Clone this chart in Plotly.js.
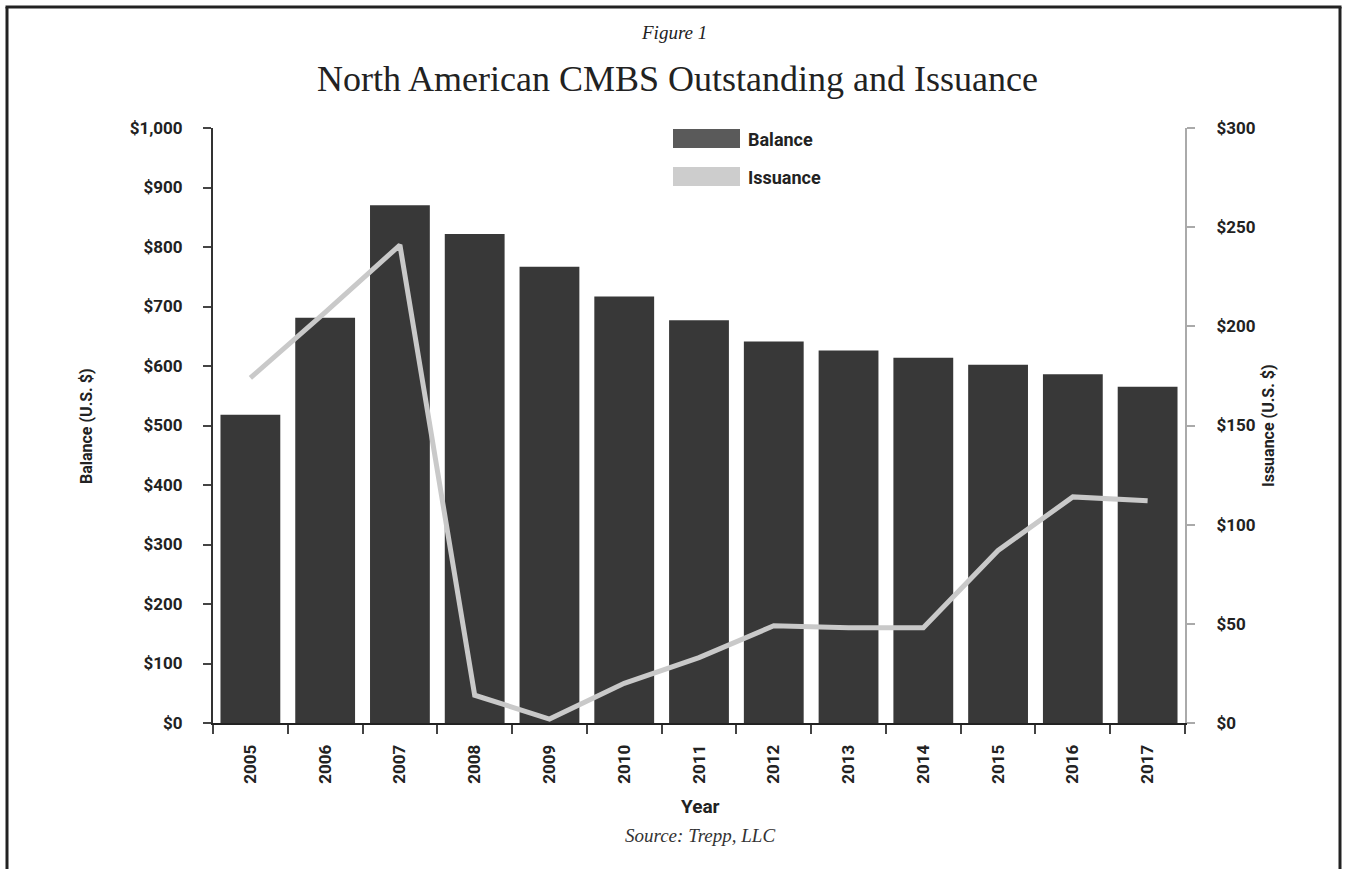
<!DOCTYPE html>
<html><head><meta charset="utf-8">
<script src="https://cdn.plot.ly/plotly-3.0.1.min.js"></script>
<style>html,body{margin:0;padding:0;background:#fff}#chart{width:1349px;height:869px}</style>
</head><body><div id="chart"></div>
<script>
const years = ['2005','2006','2007','2008','2009','2010','2011','2012','2013','2014','2015','2016','2017'];
const balance = [518, 681, 870, 822, 767, 717, 677, 641, 626, 614, 602, 586, 565];
const issuance = [174, 207, 241, 14, 2, 20, 33, 49, 48, 48, 87, 114, 112];
const leftTickVals = [0,100,200,300,400,500,600,700,800,900,1000];
const leftTickText = ['$0','$100','$200','$300','$400','$500','$600','$700','$800','$900','$1,000'];
const rightTickVals = [0,50,100,150,200,250,300];
const rightTickText = ['$0','$50','$100','$150','$200','$250','$300'];

const COND = 'Roboto, "Liberation Sans", sans-serif';
const SERIF = '"Liberation Serif", "DejaVu Serif", serif';

// pixel helpers for paper coordinates (plot area 213..1185 x 128..723)
const L = 213, R = 1185, T = 128, B = 723;
const px = x => (x - L) / (R - L);
const py = y => (B - y) / (B - T);

const bars = {
  type: 'bar', x: years, y: balance, name: 'Balance',
  marker: {color: '#383838', line: {width: 0}},
  hoverinfo: 'x+y', showlegend: false
};
const line = {
  type: 'scatter', mode: 'lines', x: years, y: issuance, name: 'Issuance', yaxis: 'y2',
  line: {color: '#c9c9c9', width: 5}, showlegend: false
};

const tickFont = {family: COND, size: 17, color: '#222', weight: 700};

const layout = {
  width: 1349, height: 869,
  margin: {l: L, r: 1349 - R, t: T, b: 869 - B, pad: 0},
  paper_bgcolor: '#fff', plot_bgcolor: '#fff',
  bargap: 0.2,
  xaxis: {
    type: 'category', range: [-0.5, 12.5], tickson: 'boundaries',
    ticks: 'outside', ticklen: 9, tickwidth: 2, tickcolor: '#444',
    showline: true, linecolor: '#222', linewidth: 2,
    tickangle: -90, tickfont: tickFont, ticklabelstandoff: 13,
    showgrid: false, zeroline: false, fixedrange: true
  },
  yaxis: {
    range: [0, 1000], tickvals: leftTickVals, ticktext: leftTickText,
    ticks: 'outside', ticklen: 8, tickwidth: 2, tickcolor: '#444',
    showline: true, linecolor: '#333', linewidth: 2,
    tickfont: tickFont, ticklabelstandoff: 17,
    showgrid: false, zeroline: false, fixedrange: true
  },
  yaxis2: {
    range: [0, 300], tickvals: rightTickVals, ticktext: rightTickText,
    overlaying: 'y', side: 'right', anchor: 'x',
    ticks: 'outside', ticklen: 8, tickwidth: 2, tickcolor: '#aaa',
    showline: true, linecolor: '#aaa', linewidth: 2,
    tickfont: tickFont, ticklabelstandoff: 18,
    showgrid: false, zeroline: false, fixedrange: true
  },
  shapes: [
    // frame
    {type: 'line', xref: 'paper', yref: 'paper', x0: px(7), x1: px(7), y0: py(7), y1: py(900), line: {color: '#222', width: 3}},
    {type: 'line', xref: 'paper', yref: 'paper', x0: px(5.5), x1: px(1341.5), y0: py(7), y1: py(7), line: {color: '#222', width: 3}},
    {type: 'line', xref: 'paper', yref: 'paper', x0: px(1340), x1: px(1340), y0: py(7), y1: py(900), line: {color: '#222', width: 3}},
    // legend swatches
    {type: 'rect', xref: 'paper', yref: 'paper', x0: px(673), x1: px(740), y0: py(148), y1: py(129), fillcolor: '#5a5a5a', line: {width: 0}},
    {type: 'rect', xref: 'paper', yref: 'paper', x0: px(673), x1: px(740), y0: py(186), y1: py(167), fillcolor: '#cdcdcd', line: {width: 0}}
  ],
  annotations: [
    {text: 'Figure 1', xref: 'paper', yref: 'paper', x: px(674), y: py(33), xanchor: 'center', yanchor: 'middle', showarrow: false,
     font: {family: SERIF, size: 19, color: '#222', style: 'italic'}},
    {text: 'North American CMBS Outstanding and Issuance', xref: 'paper', yref: 'paper', x: px(677), y: py(79), xanchor: 'center', yanchor: 'middle', showarrow: false,
     font: {family: SERIF, size: 36, color: '#222'}},
    {text: 'Balance', xref: 'paper', yref: 'paper', x: px(746), y: py(139), xanchor: 'left', yanchor: 'middle', showarrow: false,
     font: {family: COND, size: 18, color: '#222', weight: 700}},
    {text: 'Issuance', xref: 'paper', yref: 'paper', x: px(746), y: py(177), xanchor: 'left', yanchor: 'middle', showarrow: false,
     font: {family: COND, size: 18, color: '#222', weight: 700}},
    {text: 'Balance (U.S. $)', xref: 'paper', yref: 'paper', x: px(86), y: py(426), xanchor: 'center', yanchor: 'middle', textangle: -90, showarrow: false,
     font: {family: COND, size: 16, color: '#222', weight: 700}},
    {text: 'Issuance (U.S. $)', xref: 'paper', yref: 'paper', x: px(1268), y: py(426), xanchor: 'center', yanchor: 'middle', textangle: -90, showarrow: false,
     font: {family: COND, size: 16, color: '#222', weight: 700}},
    {text: 'Year', xref: 'paper', yref: 'paper', x: px(700), y: py(806), xanchor: 'center', yanchor: 'middle', showarrow: false,
     font: {family: COND, size: 19, color: '#222', weight: 700}},
    {text: 'Source: Trepp, LLC', xref: 'paper', yref: 'paper', x: px(700), y: py(835), xanchor: 'center', yanchor: 'middle', showarrow: false,
     font: {family: SERIF, size: 19, color: '#333', style: 'italic'}}
  ]
};

Plotly.newPlot('chart', [bars, line], layout, {displayModeBar: false, staticPlot: true});
</script>
</body></html>
